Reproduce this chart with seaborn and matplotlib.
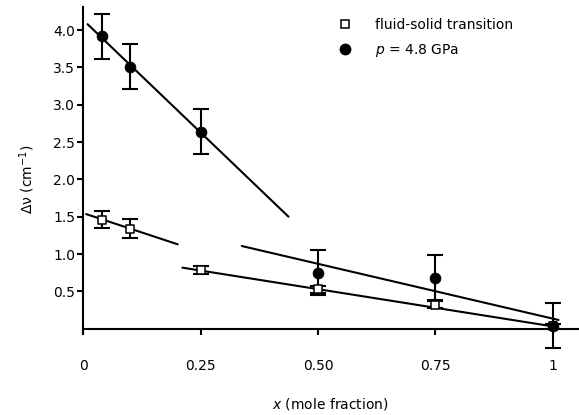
import matplotlib
matplotlib.use("Agg")
import matplotlib.pyplot as plt
import seaborn as sns
import pandas as pd
from matplotlib.lines import Line2D

# ---- data ----
circ_x = [0.04, 0.10, 0.25, 0.50, 0.75, 1.00]
circ_y = [3.92, 3.51, 2.64, 0.75, 0.68, 0.04]
circ_err = [0.30, 0.30, 0.30, 0.30, 0.30, 0.30]

sq_x = [0.04, 0.10, 0.25, 0.50, 0.75, 1.00]
sq_y = [1.46, 1.34, 0.785, 0.525, 0.32, 0.03]
sq_err = [0.115, 0.13, 0.055, 0.05, 0.05, 0.03]

# fitted line segments (end points)
seg_id = ["a", "a", "b", "b", "c", "c", "d", "d"]
seg_x = [0.009, 0.437, 0.006, 0.201, 0.211, 1.01, 0.3375, 1.012]
seg_y = [4.08, 1.50, 1.535, 1.13, 0.817, 0.02, 1.107, 0.116]

x_ticks = [0, 0.25, 0.50, 0.75, 1.0]
x_ticklabels = ["0", "0.25", "0.50", "0.75", "1"]
y_ticks = [0.5, 1.0, 1.5, 2.0, 2.5, 3.0, 3.5, 4.0]
y_ticklabels = ["0.5", "1.0", "1.5", "2.0", "2.5", "3.0", "3.5", "4.0"]

legend_labels = ["fluid-solid transition", r"$p$ = 4.8 GPa"]

# ---- style ----
sns.set_theme(style="ticks")
plt.rcParams["font.family"] = ["DejaVu Sans"]
plt.rcParams["text.color"] = "black"
plt.rcParams["axes.labelcolor"] = "black"
plt.rcParams["mathtext.fontset"] = "custom"
plt.rcParams["mathtext.rm"] = "DejaVu Sans"
plt.rcParams["mathtext.it"] = "DejaVu Sans:italic"

fig = plt.figure(figsize=(5.79, 4.15), dpi=100)
ax = fig.add_axes([0.1439, 0.1542, 0.9978 - 0.1439, 0.9831 - 0.1542])

df_seg = pd.DataFrame({"seg": seg_id, "x": seg_x, "y": seg_y})
sns.lineplot(data=df_seg, x="x", y="y", units="seg", estimator=None,
             color="black", lw=1.5, ax=ax, legend=False, sort=False)

ax.errorbar(sq_x, sq_y, yerr=sq_err, fmt="none", ecolor="black",
            elinewidth=1.5, capsize=5.5, capthick=1.5, zorder=3)
ax.errorbar(circ_x, circ_y, yerr=circ_err, fmt="none", ecolor="black",
            elinewidth=1.5, capsize=5.5, capthick=1.5, zorder=3)

df_sq = pd.DataFrame({"x": sq_x, "y": sq_y})
df_c = pd.DataFrame({"x": circ_x, "y": circ_y})
sns.scatterplot(data=df_sq, x="x", y="y", marker="s", s=28,
                facecolor="white", edgecolor="black", linewidth=1.1,
                ax=ax, zorder=4)
sns.scatterplot(data=df_c, x="x", y="y", marker="o", s=60,
                color="black", edgecolor="black", ax=ax, zorder=5)

ax.set_xlim(0, 1.053)
ax.set_ylim(-0.3, 4.31)

for s in ["top", "right"]:
    ax.spines[s].set_visible(False)
ax.spines["bottom"].set_position(("data", 0))
ax.spines["left"].set_bounds(-0.06, 4.31)
ax.spines["left"].set_linewidth(1.5)
ax.spines["bottom"].set_linewidth(1.5)
ax.spines["left"].set_color("black")
ax.spines["bottom"].set_color("black")

ax.set_xticks(x_ticks)
ax.set_xticklabels(x_ticklabels)
ax.set_yticks(y_ticks)
ax.set_yticklabels(y_ticklabels)
ax.tick_params(axis="x", direction="out", length=4, width=1.5, pad=18,
               labelsize=10, colors="black")
ax.tick_params(axis="y", direction="out", length=4, width=1.5, pad=2,
               labelsize=10, colors="black")

ax.set_xlabel(r"$x$ (mole fraction)", fontsize=10, color="black")
ax.xaxis.set_label_coords(0.5, -0.131)
ax.set_ylabel(r"Δν (cm$^{-1}$)", fontsize=10, color="black")
ax.yaxis.set_label_coords(-0.093, 0.5)

handles = [
    Line2D([], [], marker="s", ls="none", markersize=5.5,
           markerfacecolor="white", markeredgecolor="black", markeredgewidth=1.1),
    Line2D([], [], marker="o", ls="none", markersize=7.5,
           markerfacecolor="black", markeredgecolor="black"),
]
leg = ax.legend(handles, legend_labels, frameon=False, fontsize=10,
                loc="upper left", bbox_to_anchor=(0.488, 1.005),
                handletextpad=1.5, handlelength=1.2, labelspacing=0.7)
for t in leg.get_texts():
    t.set_color("black")

fig.savefig("out.png", dpi=100)
